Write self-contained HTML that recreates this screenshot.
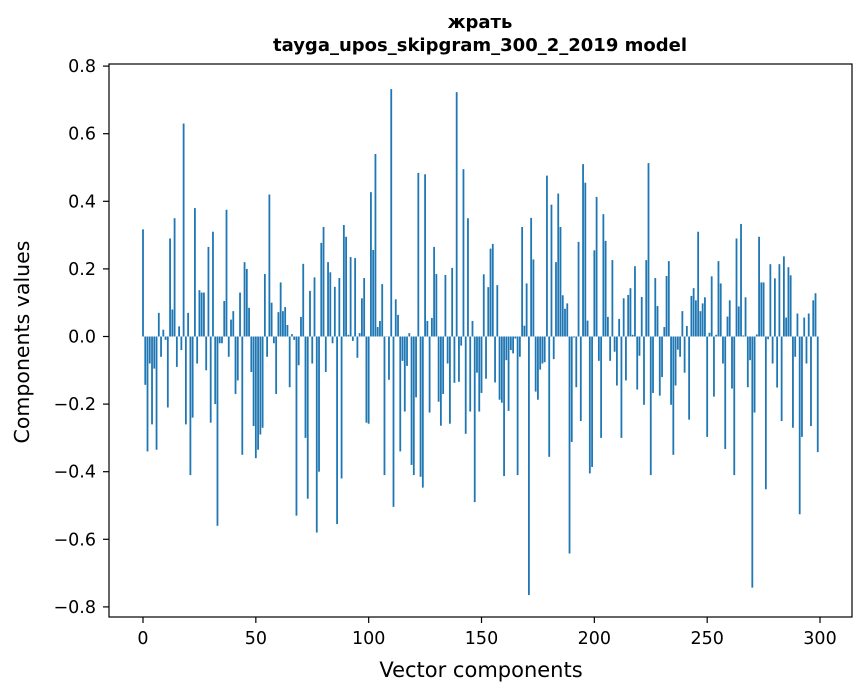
<!DOCTYPE html>
<html><head><meta charset="utf-8"><style>
html,body{margin:0;padding:0;background:#fff;}
svg{display:block;font-family:"DejaVu Sans","Liberation Sans",sans-serif;}
</style></head><body>
<svg id="chart" width="867" height="696" viewBox="0 0 867 696" xmlns="http://www.w3.org/2000/svg">
<rect x="0" y="0" width="867" height="696" fill="#fff"/>
<text x="480" y="28" text-anchor="middle" font-size="18" font-weight="bold">жрать</text>
<text x="480" y="51" text-anchor="middle" font-size="18" font-weight="bold">tayga_upos_skipgram_300_2_2019 model</text>
<g id="bars"></g>
<g id="yticks"></g>
<g id="xticks"></g>
<rect x="109" y="64" width="743" height="553" fill="none" stroke="#000" stroke-width="1.2"/>
<text x="481" y="677" text-anchor="middle" font-size="21">Vector components</text>
<text transform="translate(29,342) rotate(-90)" text-anchor="middle" font-size="20.5">Components values</text>
</svg>
<script>
const values1 = [0.317,-0.143,-0.34,-0.08,-0.26,-0.095,-0.335,0.07,-0.06,0.02,-0.01,-0.21,0.29,0.08,0.35,-0.09,0.03,-0.04,0.63,-0.26,0.07,-0.41,-0.24,0.38,-0.08,0.137,0.13,0.13,-0.10,0.265,-0.255,0.31,-0.20,-0.56,-0.02,-0.02,0.105,0.375,-0.06,0.05,0.075,-0.17,-0.13,0.13,-0.35,0.22,0.20,0.085,-0.105,-0.265,-0.36];
const values2 = [-0.335,-0.29,-0.27,0.185,-0.06,0.42,0.10,-0.02,-0.17,0.072,0.16,0.075,0.087,0.034,-0.15,0.007,-0.01,-0.53,-0.085,0.058,0.215,-0.30,-0.48,0.135,-0.08,0.175,-0.58,-0.40,0.277,0.324,-0.105,0.22,0.19,-0.02,0.147,-0.555,0.173,-0.42,0.33,0.295,0.005,0.235,-0.013,0.232,-0.063,0.01,0.113,0.173,-0.255,-0.258];
const values3 = [0.427,0.256,0.54,0.028,0.046,0.155,-0.41,0.0,-0.128,0.732,-0.504,0.11,0.064,-0.34,-0.072,-0.222,-0.087,0.01,-0.38,-0.41,-0.18,0.484,-0.415,-0.447,0.48,0.046,-0.225,0.055,0.265,0.185,-0.193,-0.264,-0.17,0.182,-0.08,-0.258,0.203,-0.137,0.723,-0.134,-0.027,0.495,-0.288,0.35,-0.222,0.046,-0.49,-0.107,-0.222,-0.167];
const values4 = [0.184,-0.125,0.146,0.26,0.274,-0.136,0.152,-0.187,-0.196,-0.413,-0.07,-0.22,-0.04,-0.05,-0.006,-0.41,-0.06,0.324,0.032,0.157,-0.765,0.351,0.228,-0.163,-0.187,-0.098,-0.08,-0.076,0.476,-0.356,0.39,-0.067,0.22,0.423,0.324,0.122,0.082,0.098,-0.642,-0.312,-0.003,-0.15,0.28,-0.25,0.51,0.455,0.047,-0.405,-0.386,0.255];
const values5 = [0.413,-0.072,-0.30,0.362,0.283,0.058,-0.072,0.226,-0.045,-0.145,0.052,-0.30,0.113,-0.13,0.123,0.143,0.005,0.208,-0.157,-0.057,0.117,-0.202,0.226,0.513,-0.41,-0.167,0.173,0.09,-0.175,-0.12,0.028,0.179,0.223,-0.202,-0.35,-0.145,-0.039,-0.06,0.075,-0.107,0.031,-0.246,0.12,0.143,0.107,0.31,0.075];
const values6 = [0.098,0.116,-0.297,0.011,0.178,-0.178,0.005,0.223,0.157,-0.08,-0.333,0.059,0.107,-0.154,-0.41,0.29,0.089,0.333,0.003,0.116,-0.15,-0.07,-0.743,-0.225,0.006,0.295,0.16,0.16,-0.452,-0.008,0.214,-0.08,0.172,-0.151,0.214,-0.25,0.237,0.056,0.205,0.181,-0.27,-0.06,0.068,-0.526,-0.297,0.056,-0.08,0.068,-0.265,0.107,0.128,-0.342];
const values = values1.concat(values2, values3, values4, values5, values6);
const yTicks = [0.8,0.6,0.4,0.2,0.0,-0.2,-0.4,-0.6,-0.8];
const yTickLabels = ["0.8","0.6","0.4","0.2","0.0","\u22120.2","\u22120.4","\u22120.6","\u22120.8"];
const xTicks = [0,50,100,150,200,250,300];

const NS = "http://www.w3.org/2000/svg";
function xScale(i){ return 143 + i * 2.2567; }
function yScale(v){ return 336.5 - v * 338; }

const barsG = document.getElementById('bars');
values.forEach(function(v, i){
  const r = document.createElementNS(NS, 'rect');
  const y0 = yScale(0), y1 = yScale(v);
  r.setAttribute('x', (xScale(i) - 0.9).toFixed(2));
  r.setAttribute('y', Math.min(y0, y1).toFixed(2));
  r.setAttribute('width', '1.8');
  r.setAttribute('height', Math.max(Math.abs(y1 - y0), 0.3).toFixed(2));
  r.setAttribute('fill', '#1f77b4');
  
  
  barsG.appendChild(r);
});

const yG = document.getElementById('yticks');
yTicks.forEach(function(t, k){
  const y = yScale(t);
  const l = document.createElementNS(NS, 'line');
  l.setAttribute('x1', 109); l.setAttribute('x2', 103);
  l.setAttribute('y1', y); l.setAttribute('y2', y);
  l.setAttribute('stroke', '#000'); l.setAttribute('stroke-width', '1.2');
  
  
  yG.appendChild(l);
  const tx = document.createElementNS(NS, 'text');
  tx.setAttribute('x', 96); tx.setAttribute('y', y + 6);
  tx.setAttribute('text-anchor', 'end'); tx.setAttribute('font-size', '17.5');
  tx.textContent = yTickLabels[k];
  
  
  yG.appendChild(tx);
});

const xG = document.getElementById('xticks');
xTicks.forEach(function(t){
  const x = xScale(t);
  const l = document.createElementNS(NS, 'line');
  l.setAttribute('x1', x); l.setAttribute('x2', x);
  l.setAttribute('y1', 617); l.setAttribute('y2', 623);
  l.setAttribute('stroke', '#000'); l.setAttribute('stroke-width', '1.2');
  
  
  xG.appendChild(l);
  const tx = document.createElementNS(NS, 'text');
  tx.setAttribute('x', x); tx.setAttribute('y', 644);
  tx.setAttribute('text-anchor', 'middle'); tx.setAttribute('font-size', '17.5');
  tx.textContent = String(t);
  
  
  xG.appendChild(tx);
});
</script>
</body></html>
